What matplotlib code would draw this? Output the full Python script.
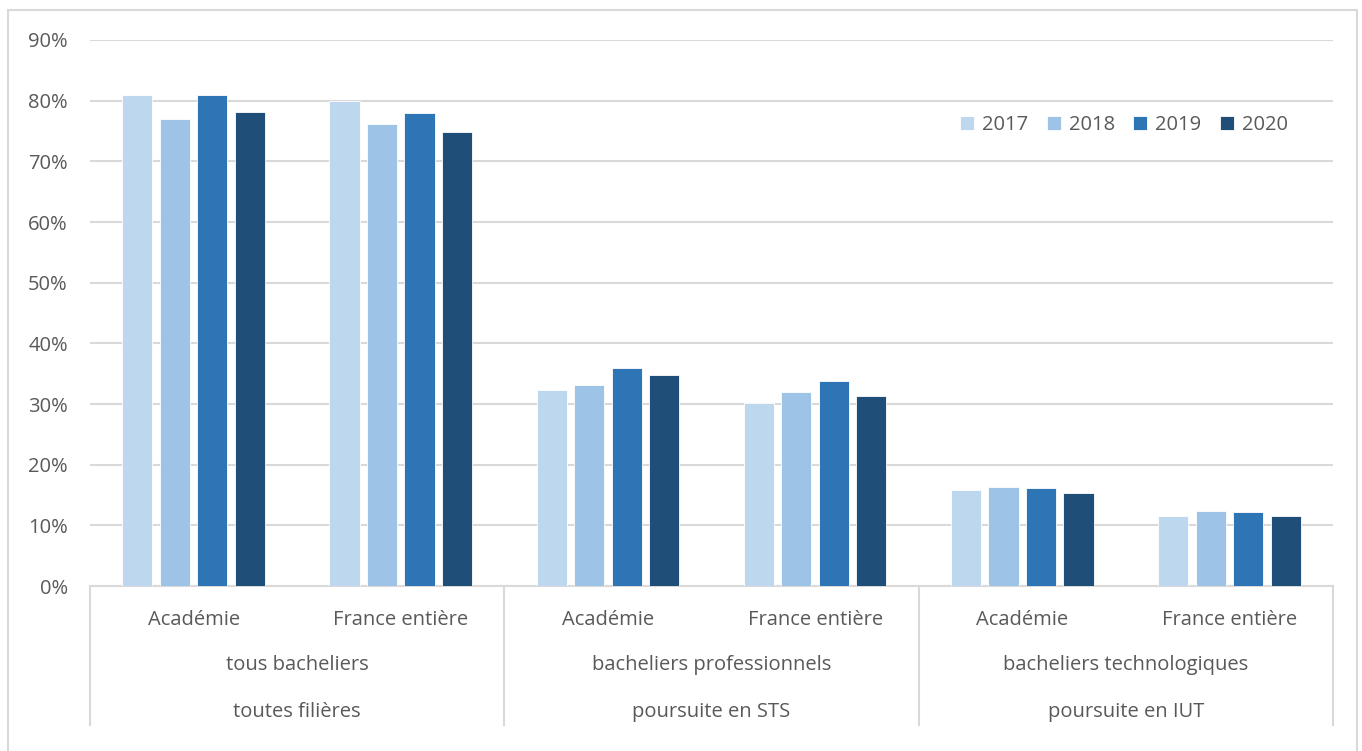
import matplotlib.pyplot as plt
import numpy as np
from matplotlib.patches import Rectangle
from matplotlib.ticker import PercentFormatter

plt.rcParams['font.family'] = ['Open Sans', 'DejaVu Sans']

years = ['2017', '2018', '2019', '2020']
colors = ['#BDD7EE', '#9DC3E6', '#2E75B6', '#1F4E79']

sub_labels = ['Académie', 'France entière'] * 3
group_line1 = ['tous bacheliers', 'bacheliers professionnels', 'bacheliers technologiques']
group_line2 = ['toutes filières', 'poursuite en STS', 'poursuite en IUT']

# one list per year, in category order
v2017 = [81.0, 80.0, 32.3, 30.2, 15.9, 11.5]
v2018 = [77.0, 76.2, 33.2, 31.9, 16.3, 12.4]
v2019 = [81.0, 78.0, 35.9, 33.8, 16.1, 12.2]
v2020 = [78.1, 74.8, 34.7, 31.4, 15.4, 11.5]
series = [v2017, v2018, v2019, v2020]

text_col = '#595959'
grid_col = '#D9D9D9'
fs = 14.5

fig = plt.figure(figsize=(13.62, 7.51), dpi=100)
ax = fig.add_axes([90 / 1362, 165 / 751, 1243 / 1362, 546 / 751])

x = np.arange(len(sub_labels))
step = 0.181
width = 0.145
for i, (vals, yr, c) in enumerate(zip(series, years, colors)):
    ax.bar(x + (i - 1.5) * step, vals, width, color=c, label=yr,
           edgecolor='white', linewidth=0.6, zorder=3)

ax.set_xlim(-0.5, len(sub_labels) - 0.5)
ax.set_ylim(0, 90)
ax.set_yticks(np.arange(0, 91, 10))
ax.yaxis.set_major_formatter(PercentFormatter(decimals=0))
ax.grid(axis='y', color=grid_col, linewidth=1.5, zorder=0)
ax.tick_params(axis='y', length=0, pad=16, labelsize=fs, labelcolor=text_col)
ax.tick_params(axis='x', length=0, pad=17, labelsize=fs, labelcolor=text_col)
ax.set_xticks(x)
ax.set_xticklabels(sub_labels)
for s in ['top', 'right', 'left']:
    ax.spines[s].set_visible(False)
ax.spines['bottom'].set_color(grid_col)
ax.spines['bottom'].set_linewidth(1.5)

# category axis separators and group labels
trans = ax.get_xaxis_transform()
for b in np.arange(-0.5, len(sub_labels), 2):
    ax.plot([b, b], [0, -139 / 546], color=grid_col, lw=1.5,
            transform=trans, clip_on=False)
for g, (l1, l2) in enumerate(zip(group_line1, group_line2)):
    cx = 2 * g + 0.5
    ax.text(cx, -79 / 546, l1, transform=trans, ha='center', va='center',
            fontsize=fs, color=text_col)
    ax.text(cx, -126 / 546, l2, transform=trans, ha='center', va='center',
            fontsize=fs, color=text_col)

ax.legend(loc='center', bbox_to_anchor=(1124 / 1362, 1 - 125 / 751),
          bbox_transform=fig.transFigure, ncol=4, frameon=False,
          fontsize=fs, labelcolor=text_col, handlelength=0.7,
          handleheight=0.7, handletextpad=0.4, columnspacing=0.9)

# chart border
fig.patches.append(Rectangle((8 / 1362, -0.05), 1349 / 1362, 1.05 - 10 / 751,
                             transform=fig.transFigure, fill=False,
                             edgecolor=grid_col, linewidth=1.5))

fig.savefig('out.png', dpi=100)
